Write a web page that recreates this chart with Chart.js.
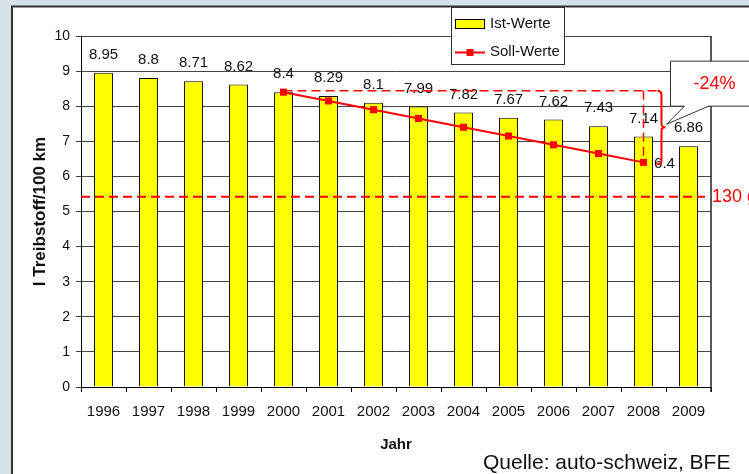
<!DOCTYPE html>
<html><head><meta charset="utf-8">
<script src="https://cdn.jsdelivr.net/npm/chart.js@4"></script>
<style>html,body{margin:0;padding:0;background:#d5e3e9;overflow:hidden}canvas{display:block}</style>
</head><body>
<canvas id="c" width="749" height="474"></canvas>
<script>
// ---- data ----
const years = ['1996','1997','1998','1999','2000','2001','2002','2003','2004','2005','2006','2007','2008','2009'];
const istValues = [8.95, 8.8, 8.71, 8.62, 8.4, 8.29, 8.1, 7.99, 7.82, 7.67, 7.62, 7.43, 7.14, 6.86];
const sollValues = [null, null, null, null, 8.4, 8.15, 7.9, 7.65, 7.4, 7.15, 6.9, 6.65, 6.4, null];
const yTickValues = [0, 1, 2, 3, 4, 5, 6, 7, 8, 9, 10];
const targetValue = 5.42;            // 130 g/km level
const targetLabel = '130 g/km';
const reductionLabel = '-24%';
const sollStartIndex = 4;            // 2000
const sollEndIndex = 12;             // 2008
const sourceText = 'Quelle: auto-schweiz, BFE';

const FONT = '"Liberation Sans", Arial, Helvetica, sans-serif';
const RED = '#ff0000';

const deco = {
  id: 'deco',
  beforeDraw(chart) {
    const c = chart.ctx;
    c.save();
    c.fillStyle = '#d5e3e9'; c.fillRect(0, 0, chart.width, chart.height);
    c.fillStyle = '#ffffff'; c.fillRect(12, 7, chart.width, chart.height);
    c.strokeStyle = '#333333'; c.lineWidth = 2;
    c.beginPath(); c.moveTo(12, chart.height + 5); c.lineTo(12, 6.5); c.lineTo(chart.width + 5, 6.5); c.stroke();
    c.restore();
  },
  afterDraw(chart) {
    const c = chart.ctx;
    const xs = chart.scales.x, ys = chart.scales.y;
    const area = chart.chartArea;
    c.save();
    // right border of plot
    c.strokeStyle = '#222'; c.lineWidth = 1.5;
    c.beginPath(); c.moveTo(area.right, area.top); c.lineTo(area.right, area.bottom + 5); c.stroke();

    // data labels
    c.fillStyle = '#111'; c.font = '15px ' + FONT; c.textAlign = 'center'; c.textBaseline = 'middle';
    istValues.forEach((v, i) => {
      c.fillText(String(v), xs.getPixelForValue(i), ys.getPixelForValue(v) - 18);
    });
    // soll end label
    const xe = xs.getPixelForValue(sollEndIndex), ye = ys.getPixelForValue(sollValues[sollEndIndex]);
    const xsrt = xs.getPixelForValue(sollStartIndex), ytop = ys.getPixelForValue(sollValues[sollStartIndex]);
    c.fillText(String(sollValues[sollEndIndex]), xe + 21, ye + 1);

    // 130 g line
    const yt = ys.getPixelForValue(targetValue);
    c.strokeStyle = RED; c.lineWidth = 2; c.setLineDash([9, 5]);
    c.beginPath(); c.moveTo(area.left, yt); c.lineTo(area.right - 6, yt); c.stroke();
    // reduction guide lines
    const bx = xe + 18;
    c.lineWidth = 1.5;
    c.beginPath(); c.moveTo(xsrt, ytop - 1.5); c.lineTo(bx - 3, ytop - 1.5); c.stroke();
    c.beginPath(); c.moveTo(xe, ytop - 1.5); c.lineTo(xe, ye); c.stroke();
    c.setLineDash([]);
    // brace
    const ymid = (ytop + ye) / 2;
    c.lineWidth = 2;
    c.beginPath();
    c.moveTo(bx - 4, ytop - 1.5);
    c.quadraticCurveTo(bx, ytop - 1.5, bx, ytop + 3);
    c.lineTo(bx, ymid - 3);
    c.quadraticCurveTo(bx, ymid, bx + 4, ymid);
    c.quadraticCurveTo(bx, ymid, bx, ymid + 3);
    c.lineTo(bx, ye - 1);
    c.quadraticCurveTo(bx, ye + 2, bx - 5, ye + 2);
    c.stroke();
    // 130 g text
    c.fillStyle = RED; c.font = '18px ' + FONT; c.textAlign = 'left';
    c.fillText(targetLabel, area.right + 1, yt);

    // callout
    const cx0 = bx + 9, cTop = ytop - 31, cBot = ytop + 14;
    c.beginPath();
    c.moveTo(chart.width + 10, cTop); c.lineTo(cx0, cTop); c.lineTo(cx0, cBot);
    c.lineTo(cx0 + 14, cBot); c.lineTo(bx + 5, ymid - 3); c.lineTo(cx0 + 38, cBot);
    c.lineTo(chart.width + 10, cBot);
    c.fillStyle = '#fff'; c.fill();
    c.strokeStyle = '#333'; c.lineWidth = 1; c.stroke();
    c.fillStyle = RED; c.font = '18px ' + FONT; c.textAlign = 'center';
    c.fillText(reductionLabel, cx0 + 44, (cTop + cBot) / 2);

    // legend
    c.fillStyle = '#fff'; c.fillRect(451, 7, 114, 58);
    c.strokeStyle = '#333'; c.lineWidth = 1; c.strokeRect(451.5, 7.5, 113, 57);
    c.fillStyle = '#ffff00'; c.fillRect(455.5, 19.5, 29, 9);
    c.strokeStyle = '#000'; c.strokeRect(455.5, 19.5, 29, 9);
    c.strokeStyle = RED; c.lineWidth = 2;
    c.beginPath(); c.moveTo(455, 52.5); c.lineTo(485, 52.5); c.stroke();
    c.fillStyle = RED; c.fillRect(466.5, 49, 7, 7);
    c.fillStyle = '#111'; c.font = '15px ' + FONT; c.textAlign = 'left'; c.textBaseline = 'middle';
    c.fillText('Ist-Werte', 490, 24);
    c.fillText('Soll-Werte', 490, 52);

    // source
    c.font = '21px ' + FONT; c.textBaseline = 'alphabetic';
    c.fillText(sourceText, 483, 469);
    c.restore();
  }
};

new Chart(document.getElementById('c'), {
  type: 'bar',
  data: {
    labels: years,
    datasets: [
      {
        type: 'line', label: 'Soll-Werte', data: sollValues,
        borderColor: RED, backgroundColor: RED, borderWidth: 2,
        pointStyle: 'rect', pointRadius: 5, pointBackgroundColor: RED, pointBorderWidth: 0,
        spanGaps: false, order: 0
      },
      {
        type: 'bar', label: 'Ist-Werte', data: istValues,
        backgroundColor: '#ffff00', borderColor: '#000', borderWidth: 1,
        categoryPercentage: 1, barPercentage: 0.42, order: 1
      }
    ]
  },
  options: {
    responsive: false, animation: false, devicePixelRatio: 1,
    layout: { padding: { left: 12, top: 36, right: 38, bottom: 0 } },
    plugins: { legend: { display: false }, tooltip: { enabled: false } },
    scales: {
      x: {
        offset: true,
        grid: { display: true, drawOnChartArea: false, drawTicks: true, tickLength: 5, color: '#000', offset: true },
        border: { display: true, color: '#000', width: 1 },
        ticks: { color: '#111', font: { family: FONT, size: 15 }, padding: 11, maxRotation: 0, autoSkip: false },
        title: { display: true, text: 'Jahr', color: '#111', font: { family: FONT, size: 15, weight: 'bold' }, padding: { top: 0, bottom: 20 } },
        afterFit(s) { s.height = 87; }
      },
      y: {
        min: 0, max: 10,
        afterBuildTicks(s) { s.ticks = yTickValues.map(v => ({ value: v })); },
        grid: { color: '#444', tickLength: 5, drawTicks: true },
        border: { display: true, color: '#000', width: 1 },
        ticks: { color: '#111', font: { family: FONT, size: 14 }, padding: 6 },
        title: { display: true, text: 'l Treibstoff/100 km', color: '#111', font: { family: FONT, size: 17, weight: 'bold' }, padding: { top: 18, bottom: 0 } },
        afterFit(s) { s.width = 69; }
      }
    }
  },
  plugins: [deco]
});
</script>
</body></html>
